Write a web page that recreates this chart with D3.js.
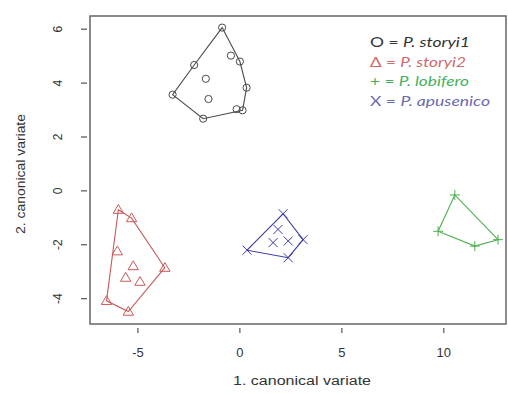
<!DOCTYPE html>
<html>
<head>
<meta charset="utf-8">
<script src="https://cdn.jsdelivr.net/npm/d3@7/dist/d3.min.js"></script>
<style>
  html, body { margin: 0; padding: 0; background: #fff; }
  svg { display: block; }
  .tick-label { font-family: "Liberation Sans", Arial, sans-serif; font-size: 12px; fill: #333; }
  .axis-title { font-family: "Liberation Sans", Arial, sans-serif; font-size: 12px; fill: #333; }
  .legend { font-family: Lato, "Open Sans", sans-serif; font-size: 13px; }
</style>
</head>
<body>
<div id="chart"></div>
<script>
// Canonical variate scores for each group: [CV1, CV2]
const storyi1 = [[-0.87, 6.06], [-2.24, 4.67], [-0.44, 5.02], [0.0, 4.80], [-1.67, 4.16],
                 [0.33, 3.83], [-3.30, 3.57], [-1.54, 3.41], [-0.16, 3.03], [0.13, 2.99], [-1.80, 2.68]];
const storyi2 = [[-5.96, -0.70], [-5.31, -1.01], [-6.01, -2.24], [-5.23, -2.79], [-3.68, -2.85],
                 [-5.60, -3.22], [-4.90, -3.37], [-6.54, -4.08], [-5.47, -4.48]];
const lobifero = [[10.54, -0.15], [9.72, -1.50], [11.52, -2.05], [12.66, -1.81]];
const apusenico = [[2.12, -0.85], [1.87, -1.43], [2.37, -1.86], [1.63, -1.92], [3.10, -1.81],
                   [0.35, -2.20], [2.37, -2.48]];

const xTicks = [-5, 0, 5, 10];
const yTicks = [-4, -2, 0, 2, 4, 6];
const xTitle = "1. canonical variate";
const yTitle = "2. canonical variate";

const legendSymbols = ["O", "\u0394", "+", "X"];
const legendNames = ["P. storyi1", "P. storyi2", "P. lobifero", "P. apusenico"];

const W = 508, H = 394;
const box = { left: 90, right: 506, top: 16, bottom: 324 };

const x = d3.scaleLinear().domain([-7.35, 13.05]).range([box.left, box.right]);
const y = d3.scaleLinear().domain([-4.94, 6.49]).range([box.bottom, box.top]);

const svg = d3.select("#chart").append("svg").attr("width", W).attr("height", H);

// Marker shapes drawn around (0,0)
const markerPath = {
  circle: "M-3.6,0a3.6,3.6 0 1,0 7.2,0a3.6,3.6 0 1,0 -7.2,0",
  triangle: "M0,-5.2L5.2,3.6L-5.2,3.6Z",
  plus: "M-5,0L5,0M0,-5L0,5",
  cross: "M-4.5,-4.5L4.5,4.5M-4.5,4.5L4.5,-4.5"
};

const groups = [
  { pts: storyi1, color: "#4a4a4a", marker: "circle" },
  { pts: storyi2, color: "#c85a5a", marker: "triangle" },
  { pts: lobifero, color: "#4fb04f", marker: "plus" },
  { pts: apusenico, color: "#3b3ba8", marker: "cross" }
];

// Convex hulls and points
groups.forEach(g => {
  const hull = d3.polygonHull(g.pts.map(p => [x(p[0]), y(p[1])]));
  svg.append("path")
    .attr("d", "M" + hull.join("L") + "Z")
    .attr("fill", "none")
    .attr("stroke", g.color)
    .attr("stroke-width", 1.1);
  svg.append("g").selectAll("path")
    .data(g.pts)
    .join("path")
    .attr("transform", d => `translate(${x(d[0])},${y(d[1])})`)
    .attr("d", markerPath[g.marker])
    .attr("fill", "none")
    .attr("stroke", g.color)
    .attr("stroke-width", 1);
});

// Plot frame
svg.append("rect")
  .attr("x", box.left).attr("y", box.top)
  .attr("width", box.right - box.left).attr("height", box.bottom - box.top)
  .attr("fill", "none").attr("stroke", "#666").attr("stroke-width", 1.5);

// X axis ticks and labels
const xg = svg.append("g");
xg.selectAll("line").data(xTicks).join("line")
  .attr("x1", d => x(d)).attr("x2", d => x(d))
  .attr("y1", box.bottom + 4).attr("y2", box.bottom + 9)
  .attr("stroke", "#555").attr("stroke-width", 1.2);
xg.selectAll("text").data(xTicks).join("text")
  .attr("class", "tick-label")
  .attr("x", d => x(d)).attr("y", 357)
  .attr("text-anchor", "middle")
  .style("font-size", "13px")
  .text(d => d < 0 ? "-" + Math.abs(d) : d);

// Y axis ticks and rotated labels
const yg = svg.append("g");
yg.selectAll("line").data(yTicks).join("line")
  .attr("x1", box.left - 9).attr("x2", box.left - 3)
  .attr("y1", d => y(d)).attr("y2", d => y(d))
  .attr("stroke", "#555").attr("stroke-width", 1.2);
yg.selectAll("text").data(yTicks).join("text")
  .attr("class", "tick-label")
  .attr("transform", d => `translate(62,${y(d)}) rotate(-90)`)
  .attr("text-anchor", "middle")
  .text(d => d < 0 ? "-" + Math.abs(d) : d);

// Axis titles
svg.append("text")
  .attr("class", "axis-title")
  .attr("x", (box.left + box.right) / 2 + 4).attr("y", 385)
  .attr("text-anchor", "middle")
  .attr("textLength", 138).attr("lengthAdjust", "spacingAndGlyphs")
  .text(xTitle);
svg.append("text")
  .attr("class", "axis-title")
  .attr("transform", `translate(25,${(box.top + box.bottom) / 2 + 4}) rotate(-90)`)
  .attr("text-anchor", "middle")
  .attr("textLength", 120).attr("lengthAdjust", "spacingAndGlyphs")
  .text(yTitle);

// Legend
const legendColors = ["#333333", "#d06a6a", "#45b060", "#6a6ab0"];
const legendWidths = [100, 96, 99, 120];
const lg = svg.append("g").attr("class", "legend");
legendNames.forEach((name, i) => {
  const t = lg.append("text")
    .attr("x", 370).attr("y", 47 + i * 19.5)
    .attr("fill", legendColors[i])
    .attr("textLength", legendWidths[i])
    .attr("lengthAdjust", "spacingAndGlyphs");
  t.append("tspan").text(legendSymbols[i] + " = ");
  t.append("tspan").attr("font-style", "italic").text(name);
});
</script>
</body>
</html>
